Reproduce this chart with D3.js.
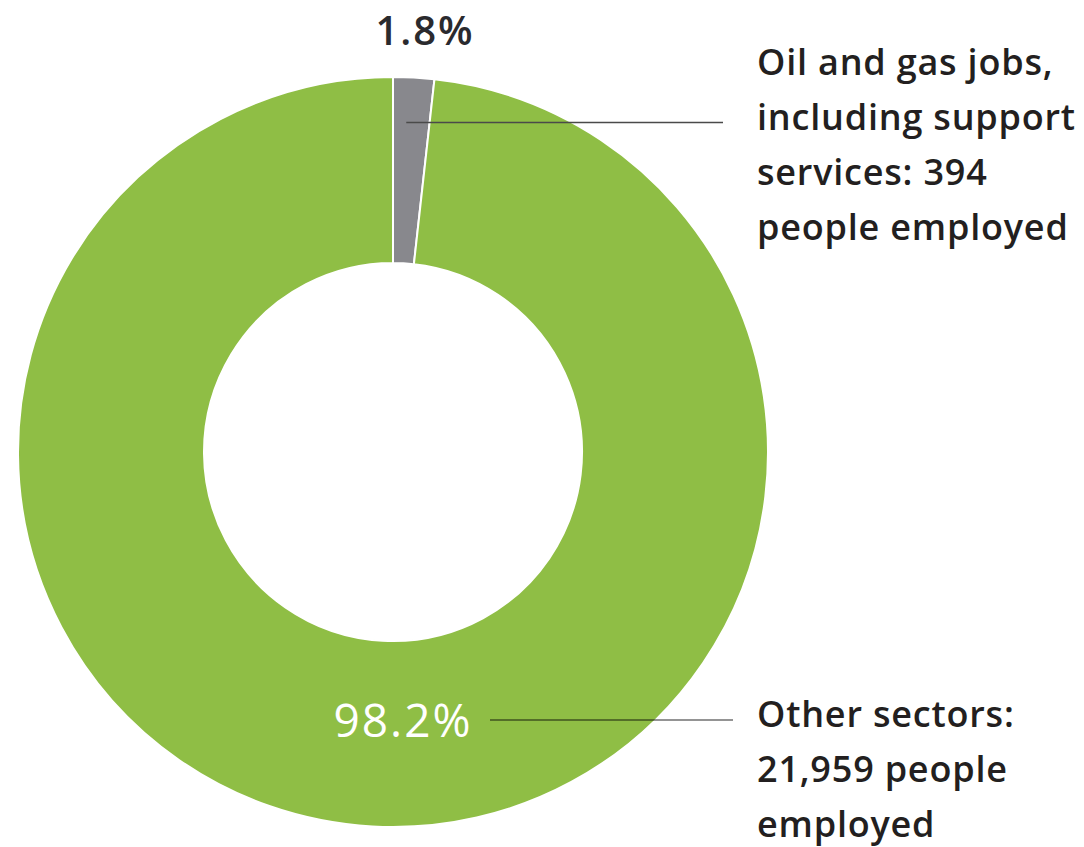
<!DOCTYPE html>
<html><head><meta charset="utf-8">
<script src="https://cdn.jsdelivr.net/npm/d3@7"></script>
<style>body{margin:0;background:#fff}svg{display:block}</style>
</head><body>
<svg id="chart" width="1084" height="847"></svg>
<script>
const categories = ["Oil and gas jobs, including support services", "Other sectors"];
const values = [394, 21959];
const pctLabels = ["1.8%", "98.2%"];
const labelLines = [
  ["Oil and gas jobs,", "including support", "services: 394", "people employed"],
  ["Other sectors:", "21,959 people", "employed"]
];
const colors = ["#88888d", "#8fbe45"];

const svg = d3.select("#chart");
const cx = 393, cy = 452, R = 375, r = 189;
const g = svg.append("g").attr("transform", `translate(${cx},${cy})`);
const pie = d3.pie().sort(null).value(d => d)(values);
const arc = d3.arc().innerRadius(r).outerRadius(R);
const color = d3.scaleOrdinal().domain(categories).range(colors);

g.selectAll("path.slice").data(pie).join("path")
  .attr("class", "slice")
  .attr("d", arc)
  .attr("fill", (d, i) => color(categories[i]))
  .attr("stroke", "#fff").attr("stroke-width", 2);

const font = "'Open Sans', sans-serif";
const textColor = "#231f20";

// Leader for slice 0
const a0 = (pie[0].startAngle + pie[0].endAngle) / 2;
const p0 = [Math.sin(a0) * 330, -Math.cos(a0) * 330];
g.append("line").attr("x1", p0[0] - 5).attr("y1", p0[1]).attr("x2", 723 - cx).attr("y2", p0[1])
  .attr("stroke", "#4a4a4a").attr("stroke-width", 1.6);

// Leader for slice 1
const y1 = 720 - cy;
g.append("line").attr("x1", 490 - cx).attr("y1", y1).attr("x2", 733 - cx).attr("y2", y1)
  .attr("stroke", "#000").attr("stroke-opacity", 0.42).attr("stroke-width", 2.2);

// percentage labels
svg.append("text").attr("x", 425).attr("y", 45).attr("text-anchor", "middle")
  .attr("font-family", font).attr("font-weight", 600).attr("font-size", 40)
  .attr("letter-spacing", 2)
  .attr("fill", "#2a2a2e").text(pctLabels[0]);
svg.append("text").attr("x", 403).attr("y", 737).attr("text-anchor", "middle")
  .attr("font-family", font).attr("font-weight", 400).attr("font-size", 46)
  .attr("letter-spacing", 2)
  .attr("fill", "#fff").text(pctLabels[1]);

// category labels
const blocks = [{x: 757, y: 75}, {x: 757, y: 727}];
labelLines.forEach((lines, i) => {
  const t = svg.append("text").attr("font-family", font).attr("font-weight", 600)
    .attr("font-size", 36).attr("letter-spacing", 0.8).attr("fill", textColor);
  lines.forEach((ln, j) => {
    t.append("tspan").attr("x", blocks[i].x).attr("y", blocks[i].y + j * 55).text(ln);
  });
});
</script>
</body></html>
